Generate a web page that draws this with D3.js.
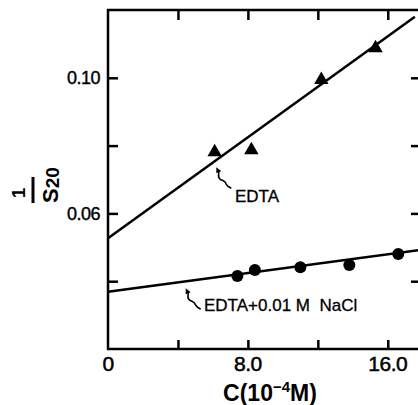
<!DOCTYPE html>
<html>
<head>
<meta charset="utf-8">
<script src="https://cdn.jsdelivr.net/npm/d3@7"></script>
<style>
  html, body { margin: 0; padding: 0; background: #fff; }
  svg { display: block; }
  text { font-family: "Liberation Sans", Arial, sans-serif; fill: #000; }
</style>
</head>
<body>
<svg id="chart" width="418" height="405"></svg>
<script>
// ---- data ----
const edtaX = [6.1, 8.2, 12.2, 15.3];
const edtaY = [0.0781, 0.0787, 0.0994, 0.1088];
const naclX = [7.4, 8.4, 11.0, 13.8, 16.6];
const naclY = [0.0415, 0.0433, 0.0441, 0.0448, 0.0480];
// fitted lines (intercept, slope)
const edtaFit = [0.0527, 0.00372];
const naclFit = [0.0369, 0.00069];
const xTicks = [4, 8, 12, 16];
const xTickLabels = [[0, "0"], [8, "8.0"], [16, "16.0"]];
const yTicks = [0.04, 0.06, 0.08, 0.10];
const yTickLabels = [[0.06, "0.06"], [0.10, "0.10"]];

// ---- scales ----
const x = d3.scaleLinear().domain([0, 17.9]).range([108, 421]);
const y = d3.scaleLinear().domain([0.02, 0.12]).range([349, 10]);

const svg = d3.select("#chart");
const ink = "#000";
const sw = 2.5;

// axes (ticks pointing inward)
const gL = svg.append("g").attr("transform", `translate(${x(0)},0)`)
  .call(d3.axisRight(y).tickValues(yTicks).tickSize(10).tickFormat(""));
const gR = svg.append("g").attr("transform", `translate(${x.range()[1]},0)`)
  .call(d3.axisLeft(y).tickValues(yTicks).tickSize(10).tickFormat(""));
const gB = svg.append("g").attr("transform", `translate(0,${y(0.02)})`)
  .call(d3.axisTop(x).tickValues(xTicks).tickSize(9).tickFormat(""));
const gT = svg.append("g").attr("transform", `translate(0,${y(0.12)})`)
  .call(d3.axisBottom(x).tickValues(xTicks).tickSize(10).tickFormat(""));
[gL, gR, gB, gT].forEach(g => {
  g.selectAll(".tick line").attr("stroke", ink).attr("stroke-width", sw);
});
svg.selectAll("path.domain").remove();
svg.append("line").attr("x1", x(0)).attr("x2", x(0)).attr("y1", y(0.12) - 1).attr("y2", y(0.02) + 1)
  .attr("stroke", ink).attr("stroke-width", sw);
svg.append("line").attr("x1", x(0) - 1).attr("x2", 420).attr("y1", y(0.02)).attr("y2", y(0.02))
  .attr("stroke", ink).attr("stroke-width", sw);
svg.append("line").attr("x1", x(0) - 1).attr("x2", 420).attr("y1", y(0.12)).attr("y2", y(0.12))
  .attr("stroke", ink).attr("stroke-width", sw);

// tick labels
svg.selectAll("text.ylab").data(yTickLabels).join("text").attr("class", "ylab")
  .attr("x", 100).attr("y", d => y(d[0]) + 6.5)
  .attr("text-anchor", "end").attr("font-size", 18).attr("letter-spacing", -0.5)
  .attr("stroke", ink).attr("stroke-width", 0.4)
  .text(d => d[1]);
svg.selectAll("text.xlab").data(xTickLabels).join("text").attr("class", "xlab")
  .attr("x", d => x(d[0])).attr("y", 371)
  .attr("text-anchor", "middle").attr("font-size", 21).attr("letter-spacing", -0.5)
  .attr("stroke", ink).attr("stroke-width", 0.5)
  .text(d => d[1]);

// axis titles
const xt = svg.append("text").attr("x", 270).attr("y", 401).attr("text-anchor", "middle")
  .attr("font-size", 23).attr("font-weight", "bold");
xt.append("tspan").text("C(10");
xt.append("tspan").attr("font-size", 15).attr("dy", -9).text("\u2212" + "4");
xt.append("tspan").attr("dy", 9).text("M)");

const yt = svg.append("g").attr("transform", "translate(35,185) rotate(-90)");
yt.append("text").attr("x", -8).attr("y", -10).attr("text-anchor", "middle")
  .attr("font-size", 19).attr("font-weight", "bold").text("1");
yt.append("line").attr("x1", -18).attr("x2", 8).attr("y1", -2).attr("y2", -2)
  .attr("stroke", ink).attr("stroke-width", 3);
const s20 = yt.append("text").attr("x", 0).attr("y", 23).attr("text-anchor", "middle")
  .attr("font-size", 22).attr("font-weight", "bold");
s20.append("tspan").text("S");
s20.append("tspan").attr("font-size", 19).attr("dy", 1).text("20");

// fit lines
const fitLine = (fit, x0, x1) => [[x0, fit[0] + fit[1] * x0], [x1, fit[0] + fit[1] * x1]];
const line = d3.line().x(d => x(d[0])).y(d => y(d[1]));
svg.append("path").attr("d", line(fitLine(edtaFit, 0, 17.55)))
  .attr("fill", "none").attr("stroke", ink).attr("stroke-width", sw);
svg.append("path").attr("d", line(fitLine(naclFit, 0, 17.9)))
  .attr("fill", "none").attr("stroke", ink).attr("stroke-width", sw);

// markers
svg.selectAll("path.tri").data(edtaX.map((v, i) => [v, edtaY[i]])).join("path").attr("class", "tri")
  .attr("transform", d => `translate(${x(d[0])},${y(d[1])})`)
  .attr("d", d3.symbol(d3.symbolTriangle, 90)).attr("fill", ink);
svg.selectAll("circle.dot").data(naclX.map((v, i) => [v, naclY[i]])).join("circle").attr("class", "dot")
  .attr("cx", d => x(d[0])).attr("cy", d => y(d[1])).attr("r", 6).attr("fill", ink);

// annotations with squiggle arrows
function squiggle(tx, ty) {
  const g = svg.append("g").attr("transform", `translate(${tx},${ty})`);
  g.append("path").attr("d", "M1,2 C3,6 -1,8 3,11 C6,13 8,12 9,16 C10,18 12,19 14,20")
    .attr("fill", "none").attr("stroke", ink).attr("stroke-width", 1.6);
  g.append("path").attr("d", "M-1,-1 L4,3 L-1,5 Z").attr("fill", ink);
}
const ax1 = 6.25, ax2 = 4.5;
squiggle(x(ax1), y(edtaFit[0] + edtaFit[1] * ax1) + 9);
svg.append("text").attr("x", 235).attr("y", 202).attr("font-size", 17)
  .attr("stroke", ink).attr("stroke-width", 0.3).text("EDTA");
squiggle(x(ax2), y(naclFit[0] + naclFit[1] * ax2) + 8);
svg.append("text").attr("x", 204).attr("y", 311).attr("font-size", 17).attr("xml:space", "preserve")
  .attr("stroke", ink).attr("stroke-width", 0.3)
  .text("EDTA+0.01 M  NaCl");
</script>
</body>
</html>
